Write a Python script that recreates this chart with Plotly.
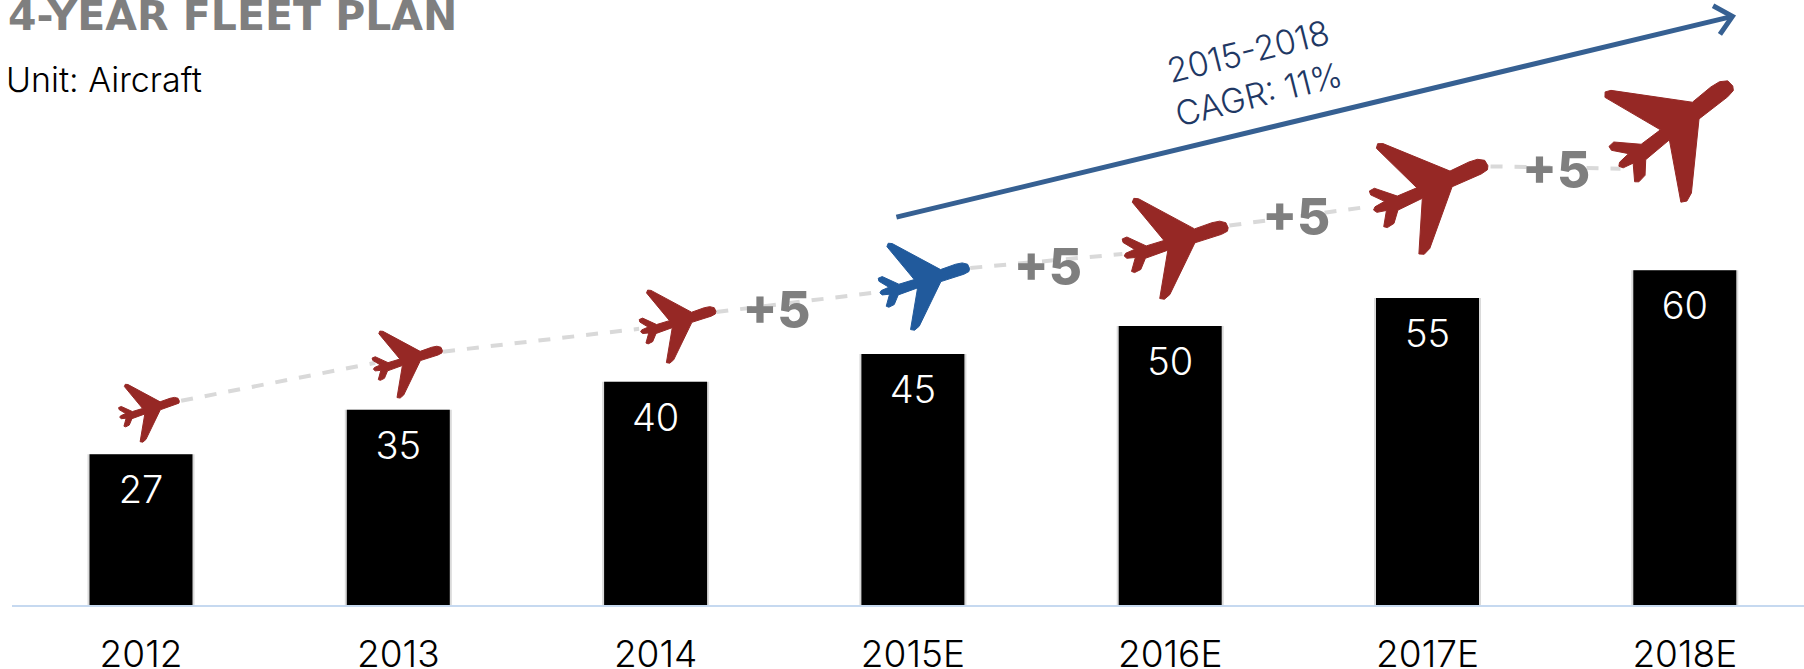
import math
import plotly.graph_objects as go

# Fleet size per year
years = ["2012", "2013", "2014", "2015E", "2016E", "2017E", "2018E"]
aircraft = [27, 35, 40, 45, 50, 55, 60]

# Dashed growth path between the aeroplanes (None breaks the line)
path_x = [0.156, 0.91, None, 1.174, 1.936, None, 2.236, 2.897, None, 3.223, 3.814, None, 4.23, 4.775, None, 5.245, 5.75]
path_y = [36.6, 43.4, None, 45.4, 49.5, None, 52.5, 56.25, None, 60.4, 62.9, None, 68.0, 71.4, None, 78.6, 78.2]

# Year-on-year increments placed along the path
step_labels = ["+5", "+5", "+5", "+5"]
step_x = [2.47, 3.525, 4.49, 5.5]
step_y = [51.9, 59.7, 68.6, 77.1]

# Page geometry
W, H = 1804, 669
LEFT, BOTTOM = 12, 64
PX_PER_CAT = 257.3
PX_PER_UNIT = 5.58
FIRST_CENTER = 141
BASE_Y = H - BOTTOM

RED, BLUE, GREY = "#962825", "#215A9C", "#7F7F7F"
ARROW = "#366092"
TEXT_FONT = "Inter"

# Aeroplane outline, in icon units, nose first
ICON = [(387, 202), (381, 189), (365, 185), (345, 189), (300, 205), (155, 127), (143, 126), (139, 136),
        (221, 235), (175, 249), (125, 226), (113, 231), (115, 240), (145, 258), (122, 268), (118, 275),
        (125, 281), (147, 279), (137, 315), (145, 318), (161, 310), (173, 281), (231, 260), (210, 385),
        (222, 387), (236, 375), (301, 241), (370, 219), (385, 211), (387, 202)]
ICON_CX, ICON_CY = 250, 257

# Icon placement per year: scale, tilt in degrees, pixel offset from the top centre of the bar
plane_scale = [0.665, 0.77, 0.84, 1.0, 1.16, 1.32, 1.5]
plane_tilt = [0, 0, 0, 0, 0, 6, 20]
plane_dx = [8, 9, 22, 11, 5, 3, -7]
plane_dy = [41, 45, 55, 67, 77, 102, 135]
plane_color = [RED, RED, RED, BLUE, RED, RED, RED]


def plane_outline(index, value):
    s = plane_scale[index] / 3
    t = math.radians(plane_tilt[index])
    xs, ys = [], []
    for ix, iy in ICON:
        dx, dy = (ix - ICON_CX) * s, (iy - ICON_CY) * s
        # screen coordinates, y downward, counter-clockwise tilt
        rx = dx * math.cos(t) + dy * math.sin(t) + plane_dx[index]
        ry = -dx * math.sin(t) + dy * math.cos(t) - plane_dy[index]
        xs.append(index + rx / PX_PER_CAT)
        ys.append(value - ry / PX_PER_UNIT)
    return xs, ys


def page_x(px):
    return (px - LEFT) / (W - LEFT)


def page_y(py):
    return (BASE_Y - py) / BASE_Y


fig = go.Figure()

# Soft edge behind the bars, then the bars themselves
fig.add_bar(x=list(range(len(years))), y=aircraft, width=107 / PX_PER_CAT,
            marker=dict(color="#DADADA", line_width=0), hoverinfo="skip", showlegend=False)
fig.add_bar(x=list(range(len(years))), y=aircraft, width=103 / PX_PER_CAT,
            marker=dict(color="#000000", line_width=0), showlegend=False)

# Value labels inside the top of each bar
fig.add_scatter(x=list(range(len(years))), y=[v - 39.5 / PX_PER_UNIT for v in aircraft], mode="text",
                text=[str(v) for v in aircraft], textposition="middle center",
                textfont=dict(family=TEXT_FONT, size=38, color="#FFFFFF", weight=300), showlegend=False)

fig.add_scatter(x=path_x, y=path_y, mode="lines", connectgaps=False,
                line=dict(color="#D9D9D9", width=4, dash="12px,12px"), showlegend=False)

for i, v in enumerate(aircraft):
    px, py = plane_outline(i, v)
    fig.add_scatter(x=px, y=py, mode="lines", fill="toself", fillcolor=plane_color[i],
                    line=dict(color=plane_color[i], width=1), showlegend=False, hoverinfo="skip")

fig.add_scatter(x=step_x, y=step_y, mode="text", text=step_labels, textposition="middle center",
                textfont=dict(family=TEXT_FONT, size=51, color=GREY, weight=800), showlegend=False)

# CAGR arrow: shaft plus an open chevron head
arrow_x = [2.936, 6.185]
arrow_y = [69.5, 105.5]
fig.add_scatter(x=arrow_x, y=arrow_y, mode="lines", line=dict(color=ARROW, width=5), showlegend=False)
ang = math.atan2((arrow_y[1] - arrow_y[0]) * PX_PER_UNIT, (arrow_x[1] - arrow_x[0]) * PX_PER_CAT)
head_x, head_y = [], []
for sign in (1, None, -1):
    if sign is None:
        head_x.append(arrow_x[1])
        head_y.append(arrow_y[1])
        continue
    a = ang + math.pi + sign * math.radians(42)
    head_x.append(arrow_x[1] + 22 * math.cos(a) / PX_PER_CAT)
    head_y.append(arrow_y[1] + 22 * math.sin(a) / PX_PER_UNIT)
fig.add_scatter(x=head_x, y=head_y, mode="lines", line=dict(color=ARROW, width=5), showlegend=False)

fig.add_annotation(x=4.322, y=95.4, xref="x", yref="y", text="2015-2018<br>CAGR: 11%", showarrow=False,
                   textangle=-14, align="center",
                   font=dict(family=TEXT_FONT, size=34, color="#1F3864", weight=300))
fig.add_annotation(x=page_x(6), y=page_y(15.5), xref="paper", yref="paper", text="4-YEAR FLEET PLAN", showarrow=False,
                   xanchor="left", yanchor="middle",
                   font=dict(family="DejaVu Sans", size=41, color=GREY, weight=700))
fig.add_annotation(x=page_x(4), y=page_y(79), xref="paper", yref="paper", text="Unit: Aircraft", showarrow=False,
                   xanchor="left", yanchor="middle",
                   font=dict(family=TEXT_FONT, size=34, color="#000000", weight=300))

fig.update_layout(
    width=W, height=H, margin=dict(l=LEFT, r=0, t=0, b=BOTTOM, pad=0),
    paper_bgcolor="#FFFFFF", plot_bgcolor="#FFFFFF", barmode="overlay", showlegend=False,
    xaxis=dict(range=[(LEFT - FIRST_CENTER) / PX_PER_CAT, (W - FIRST_CENTER) / PX_PER_CAT],
               automargin=False,
               tickmode="array", tickvals=list(range(len(years))), ticktext=years,
               showgrid=False, zeroline=False, showline=True, linecolor="#C6D9F0", linewidth=2,
               ticks="outside", ticklen=16, tickcolor="rgba(0,0,0,0)",
               tickfont=dict(family=TEXT_FONT, size=37, color="#000000", weight=300)),
    yaxis=dict(range=[0, BASE_Y / PX_PER_UNIT], visible=False, automargin=False),
)

fig.write_html("out.html")
